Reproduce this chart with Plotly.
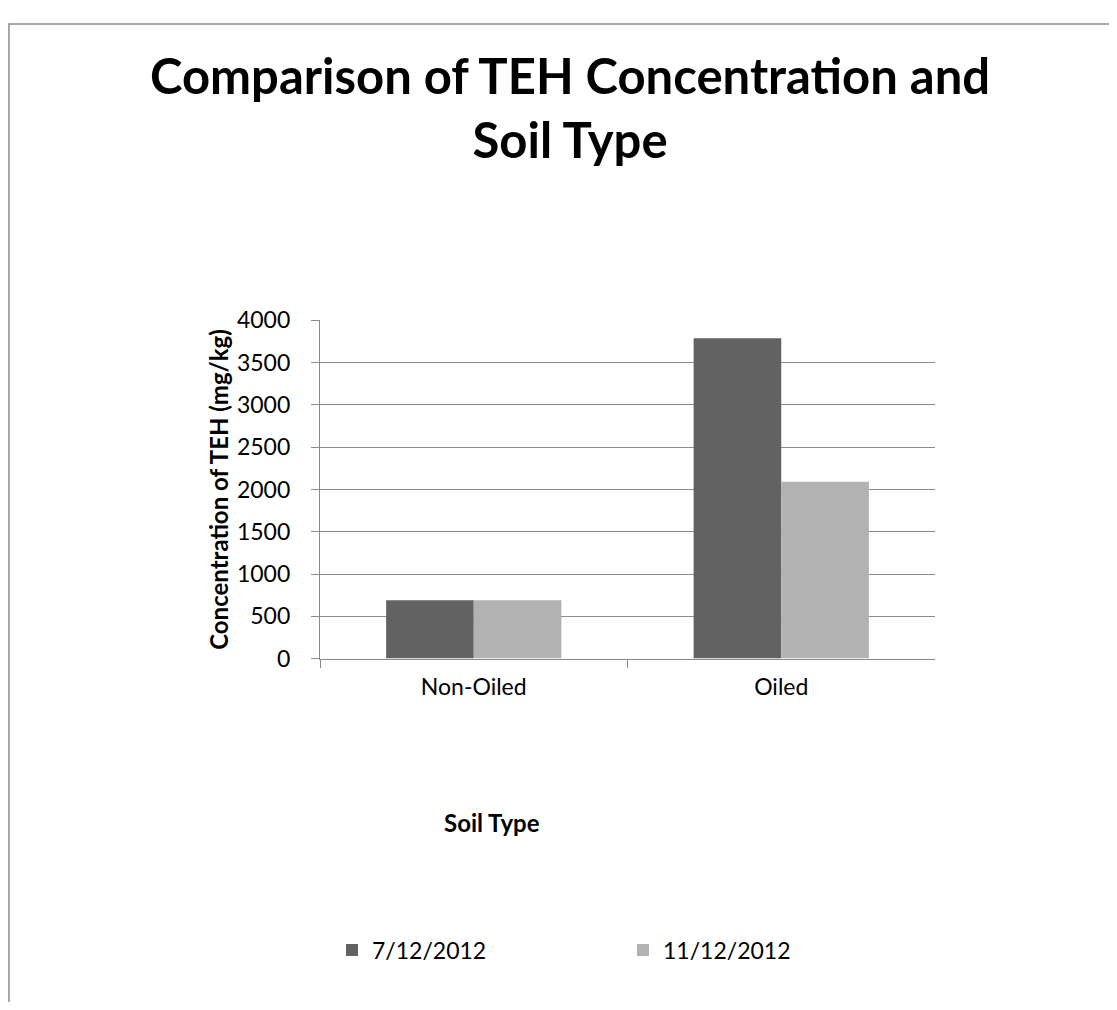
import plotly.graph_objects as go

# page body has an 8px margin, so the figure is shrunk and positions shifted
OFF = 8
W, H = 1117 - 2 * OFF, 1010 - 2 * OFF
FONT = 'Lato'
DARK = '#626262'
LIGHT = '#b2b2b2'
GRID = '#8a8a8a'

soil_types = ['Non-Oiled', 'Oiled']
teh_jul = [690, 3790]
teh_nov = [690, 2090]
dates = ['7/12/2012', '11/12/2012']


def px(x):
    return (x - OFF) / W


def py(y):
    return 1 - (y - OFF) / H


fig = go.Figure()
fig.add_trace(go.Bar(x=soil_types, y=teh_jul, name=dates[0],
                     marker=dict(color=DARK, line=dict(width=0))))
fig.add_trace(go.Bar(x=soil_types, y=teh_nov, name=dates[1],
                     marker=dict(color=LIGHT, line=dict(width=0))))

fig.update_layout(
    width=W, height=H,
    margin=dict(l=0, r=0, t=0, b=0),
    paper_bgcolor='white', plot_bgcolor='white',
    font=dict(family=FONT, color='black'),
    barmode='group', bargap=0.43, bargroupgap=0,
    xaxis=dict(domain=[px(320), px(935)], type='category',
               showline=True, linecolor=GRID, linewidth=1.3,
               ticks='outside', tickson='boundaries', ticklen=8,
               tickcolor=GRID, tickwidth=1.3, showgrid=False,
               tickfont=dict(family=FONT, size=23), ticklabelstandoff=8),
    yaxis=dict(domain=[py(662), py(314)], range=[0, 4000], dtick=500,
               showline=True, linecolor=GRID, linewidth=1.3,
               ticks='outside', ticklen=8, tickcolor=GRID, tickwidth=1.3,
               showgrid=True, gridcolor=GRID, gridwidth=1.3, zeroline=False,
               tickfont=dict(family=FONT, size=23), ticklabelstandoff=16,
               title=dict(text='<b>Concentration of TEH (mg/kg)</b>',
                          font=dict(family=FONT, size=24), standoff=1)),
    legend=dict(orientation='h', x=px(332), xanchor='left',
                y=py(962), yanchor='middle',
                entrywidth=246, entrywidthmode='pixels', itemwidth=30,
                font=dict(family=FONT, size=23), bgcolor='rgba(0,0,0,0)'),
    showlegend=True,
)

fig.add_annotation(text='<b>Comparison of TEH Concentration and<br>Soil Type</b>',
                   xref='paper', yref='paper', x=px(570), y=py(30),
                   xanchor='center', yanchor='top', showarrow=False,
                   font=dict(family=FONT, size=49, color='black'))

fig.add_annotation(text='<b>Soil Type</b>', xref='paper', yref='paper',
                   x=px(492), y=py(848), showarrow=False,
                   font=dict(family=FONT, size=24, color='black'))

fig.add_shape(type='rect', xref='paper', yref='paper',
              x0=px(9), x1=1.05, y0=-0.05, y1=py(9),
              line=dict(color='#8c8c8c', width=1.5), layer='below')

fig.write_html('out.html')
